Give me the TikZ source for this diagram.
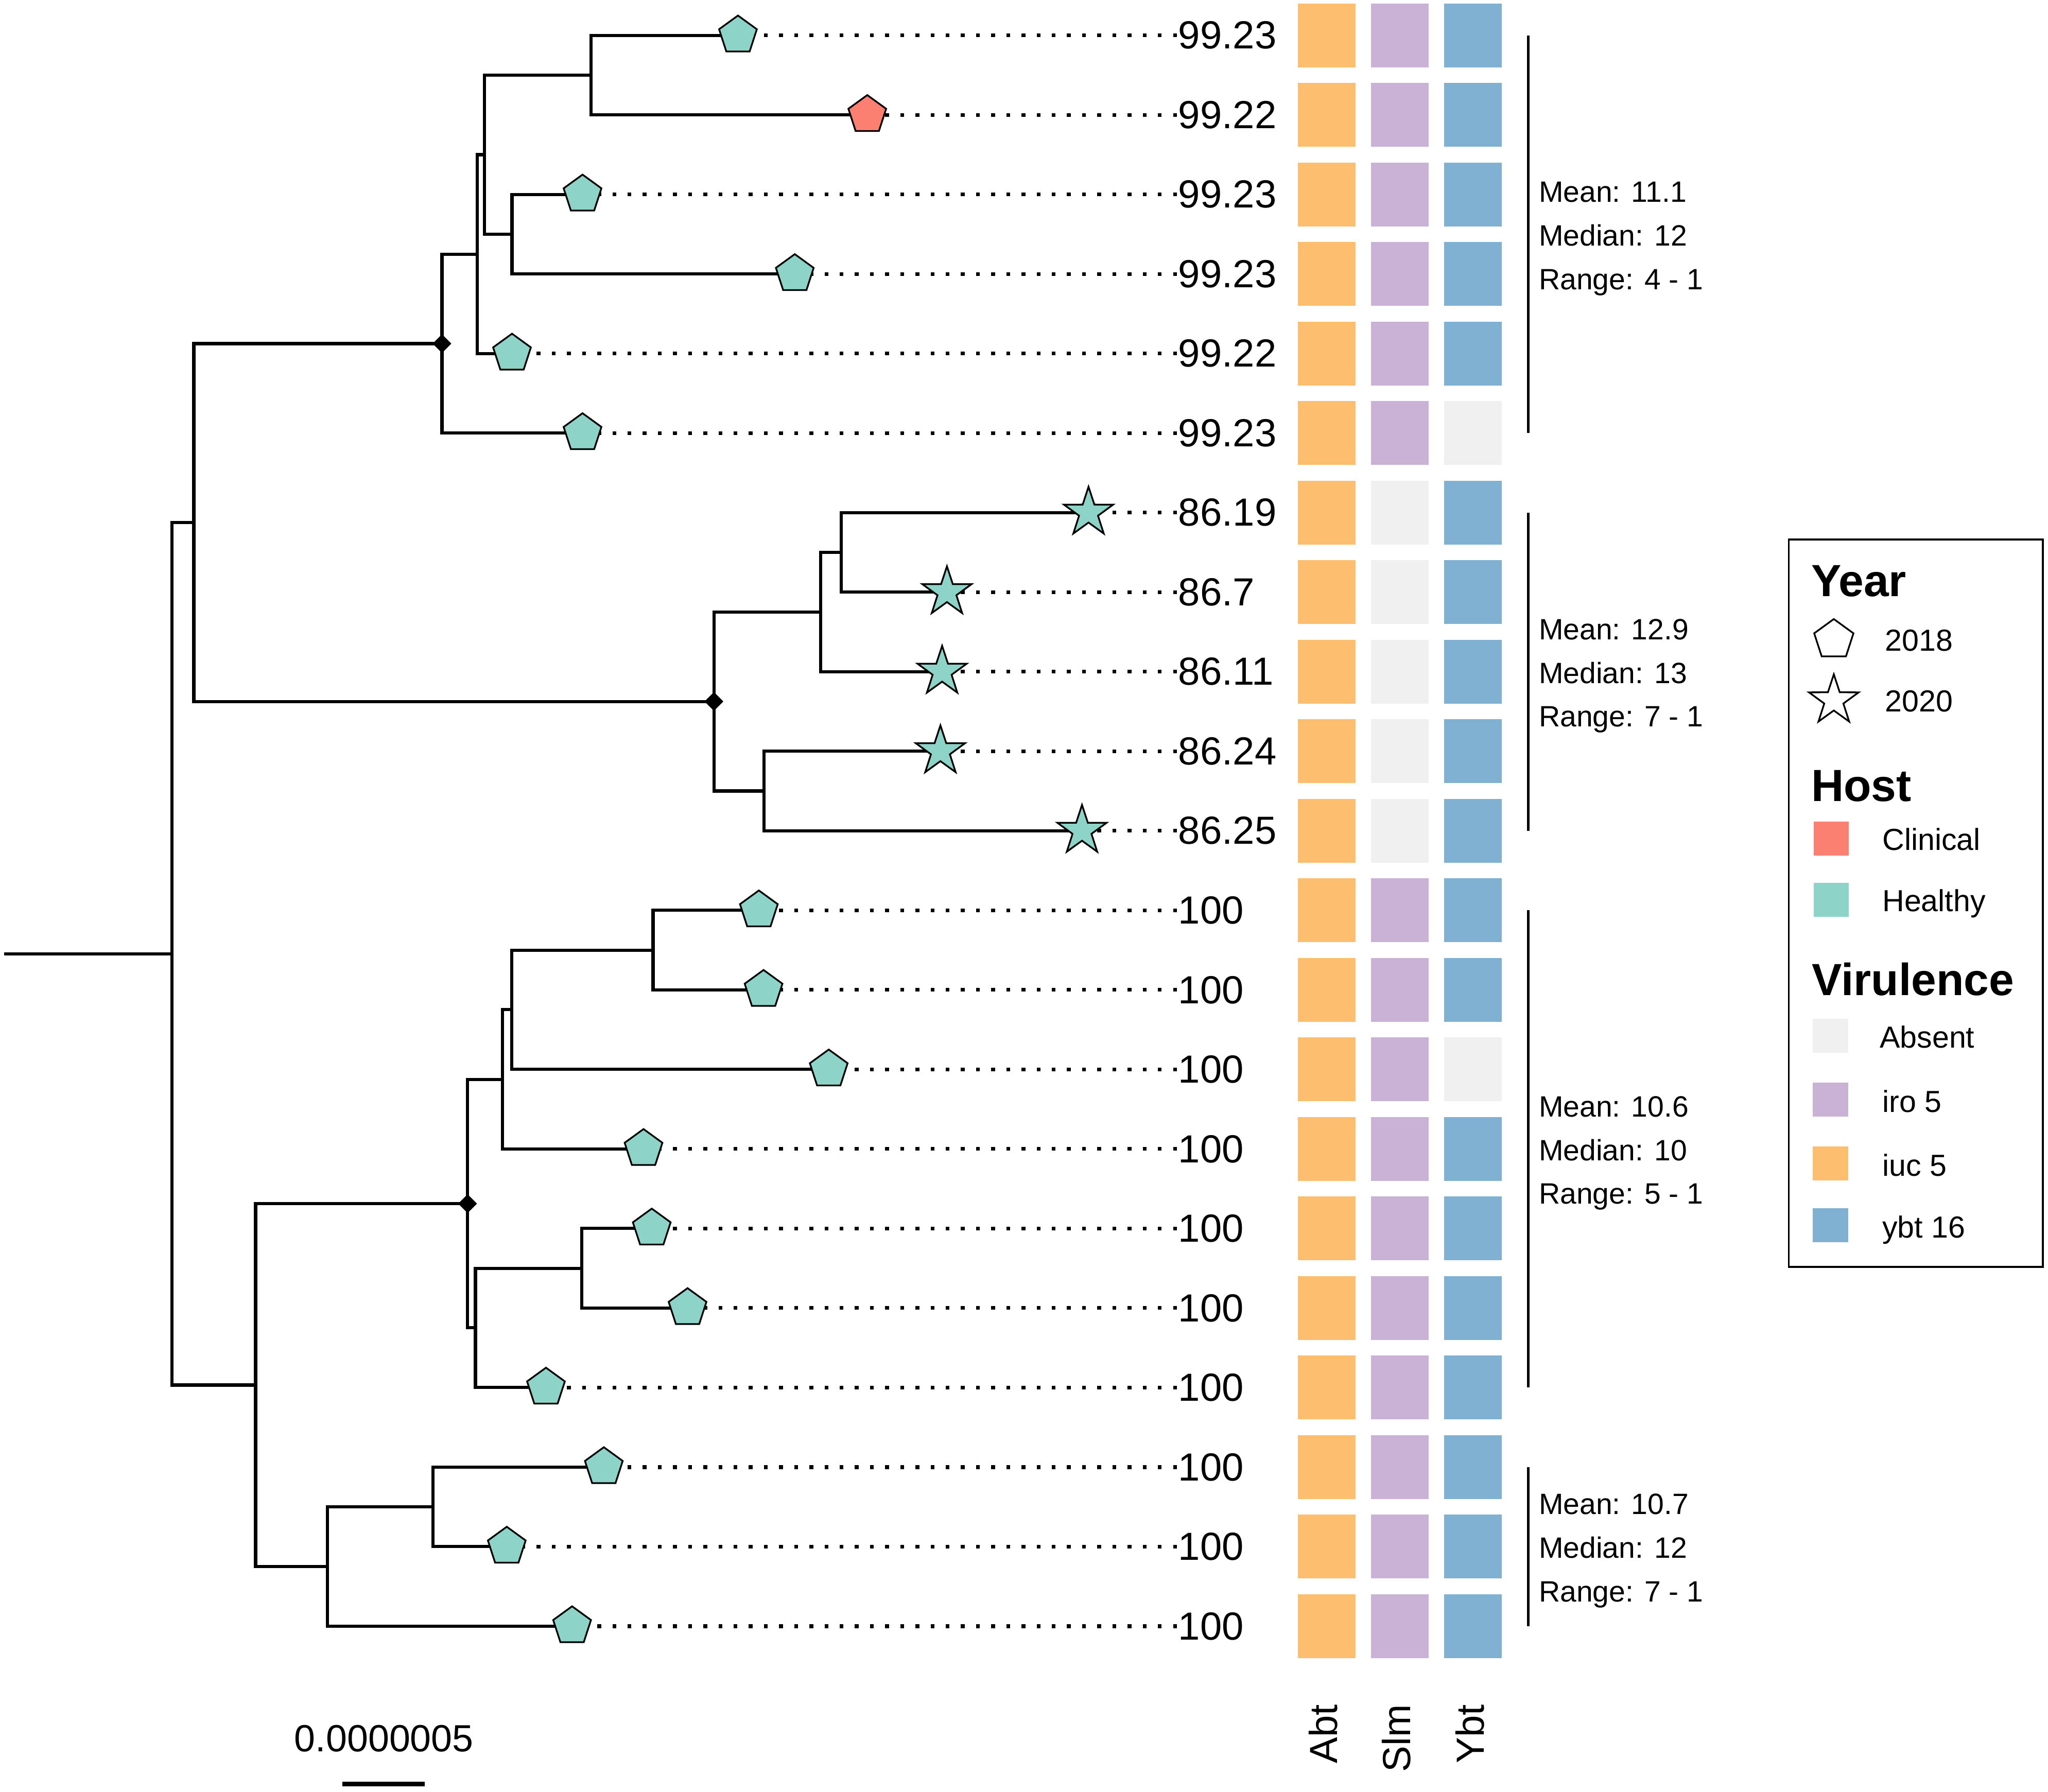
\documentclass[tikz,border=0pt]{standalone}
\usepackage{fontspec}
\setmainfont{Liberation Sans}
\usetikzlibrary{shapes.geometric}
\definecolor{healthy}{HTML}{8DD3C7}
\definecolor{clinical}{HTML}{FB8072}
\definecolor{absent}{HTML}{F0F0F0}
\definecolor{iro}{HTML}{CAB2D6}
\definecolor{iuc}{HTML}{FDBF6F}
\definecolor{ybt}{HTML}{80B1D3}
\newcommand\tipfont{\fontsize{30}{36}\selectfont}
\newcommand\grpfont{\fontsize{22.5}{27}\selectfont}
\newcommand\legfont{\fontsize{23.3}{28}\selectfont}
\newcommand\headfont{\bfseries\fontsize{34.5}{40}\selectfont}
\begin{document}
\begin{tikzpicture}[x=1pt,y=-1pt,
  branch/.style={line width=2.4pt},
  tipline/.style={line width=2.9pt,dash pattern=on 2.9pt off 8.7pt,line cap=butt},
  pent/.style={regular polygon,regular polygon sides=5,minimum size=30.4pt,inner sep=0pt,draw=black,line width=1.3pt,fill=healthy},
  starmark/.style={star,star points=5,star point ratio=2.6,minimum size=39.6pt,inner sep=0pt,draw=black,line width=1.3pt,fill=healthy},
  nodemark/.style={diamond,aspect=1,minimum width=14.5pt,minimum height=14.5pt,inner sep=0pt,fill=black},
  tiplab/.style={anchor=west,inner sep=0pt,font=\tipfont},
  tile/.style={rectangle,minimum width=44.3pt,minimum height=49pt,inner sep=0pt},
  grptext/.style={anchor=base west,inner sep=0pt,font=\grpfont},
  legtext/.style={anchor=base west,inner sep=0pt,font=\legfont},
  leghead/.style={anchor=base west,inner sep=0pt,font=\headfont},
  legkey/.style={rectangle,minimum width=27pt,minimum height=26pt,inner sep=0pt},
  collab/.style={rotate=90,anchor=base east,inner sep=0pt,font=\tipfont}]
\useasboundingbox (0,0) rectangle (1568,1372);

% tips
\foreach \i/\tx in {0/565,1/664,2/446,3/608.5,4/392,5/446,6/833.4,7/725,8/721.3,9/720,10/828.4,
  11/581,12/584.6,13/634.5,14/492.7,15/499,16/526.4,17/418,18/462.3,19/388,20/438}
  \coordinate (t\i) at (\tx,{27.1+60.9*\i});

% internal nodes
\coordinate (A) at (452.4,57.55);
\coordinate (C) at (392,179.35);
\coordinate (B) at (371,118.45);
\coordinate (D) at (365.5,194.6);
\coordinate (E) at (338.4,263.1);
\coordinate (I) at (644,423);
\coordinate (H) at (628.2,468.6);
\coordinate (J) at (584.8,605.65);
\coordinate (G) at (546.6,537.1);
\coordinate (F) at (148.4,400.1);
\coordinate (K) at (500,727.45);
\coordinate (L) at (391.8,773.1);
\coordinate (M) at (384.6,826.4);
\coordinate (O) at (445.3,971.05);
\coordinate (P) at (364,1016.7);
\coordinate (N) at (358,921.6);
\coordinate (S) at (331.6,1153.75);
\coordinate (T) at (250.8,1199.4);
\coordinate (Q) at (195.7,1060.5);
\coordinate (R) at (131.6,730.3);
\coordinate (root) at (3,730.3);

% branches
\foreach \p/\c in {A/t0,A/t1,C/t2,C/t3,B/A,B/C,D/B,D/t4,E/D,E/t5,
  I/t6,I/t7,H/I,H/t8,J/t9,J/t10,G/H,G/J,F/E,F/G,
  K/t11,K/t12,L/K,L/t13,M/L,M/t14,O/t15,O/t16,P/O,P/t17,N/M,N/P,
  S/t18,S/t19,T/S,T/t20,Q/N,Q/T,R/F,R/Q}
  \draw[branch] (\p) |- (\c);
\draw[branch] (root) -- (R);

% tip labels
\foreach \i/\lab in {0/99.23,1/99.22,2/99.23,3/99.23,4/99.22,5/99.23,6/86.19,7/86.7,8/86.11,9/86.24,10/86.25,
  11/100,12/100,13/100,14/100,15/100,16/100,17/100,18/100,19/100,20/100}
  \node[tiplab] (l\i) at (902,{27.1+60.9*\i}) {\lab};

% dotted leaders
\foreach \i in {0,...,20}
  \draw[tipline] ([xshift=-1pt]l\i.west) -- (t\i);

% tip shapes
\foreach \i in {0,2,3,4,5,11,12,13,14,15,16,17,18,19,20}
  \node[pent] (s\i) at (t\i) {};
\node[pent,fill=clinical] (s1) at (t1) {};
\foreach \i in {6,...,10}
  \node[starmark] (s\i) at (t\i) {};

% node markers
\node[nodemark] (dE) at (E) {};
\node[nodemark] (dG) at (G) {};
\node[nodemark] (dN) at (N) {};

% heatmap
\foreach \i in {0,...,20}
  \node[tile,fill=iuc] (a\i) at (1015.8,{27.1+60.9*\i}) {};
\foreach \i/\c in {0/iro,1/iro,2/iro,3/iro,4/iro,5/iro,6/absent,7/absent,8/absent,9/absent,10/absent,
  11/iro,12/iro,13/iro,14/iro,15/iro,16/iro,17/iro,18/iro,19/iro,20/iro}
  \node[tile,fill=\c] (m\i) at (1071.8,{27.1+60.9*\i}) {};
\foreach \i/\c in {0/ybt,1/ybt,2/ybt,3/ybt,4/ybt,5/absent,6/ybt,7/ybt,8/ybt,9/ybt,10/ybt,
  11/ybt,12/ybt,13/absent,14/ybt,15/ybt,16/ybt,17/ybt,18/ybt,19/ybt,20/ybt}
  \node[tile,fill=\c] (y\i) at (1127.8,{27.1+60.9*\i}) {};

% column labels
\node[collab] (cA) at (1024,1305) {Abt};
\node[collab] (cS) at (1080,1305) {Slm};
\node[collab] (cY) at (1136,1305) {Ybt};

% group brackets and statistics
\foreach \ya/\yb/\mn/\md/\rg in {27.1/331.6/11.1/12/4 - 1, 392.5/636.1/12.9/13/7 - 1,
  697.0/1062.4/10.6/10/5 - 1, 1123.3/1245.1/10.7/12/7 - 1}{
  \draw[line width=2pt] (1170,\ya) -- (1170,\yb);
  \pgfmathsetmacro\yc{(\ya+\yb)/2}
  \node[grptext] at (1178,{\yc-24.6}) {Mean: \mn};
  \node[grptext] at (1178,{\yc+8.8}) {Median: \md};
  \node[grptext] at (1178,{\yc+42.2}) {Range: \rg};
}

% scale bar
\node[inner sep=0pt,font=\fontsize{29}{34}\selectfont] (sbt) at (294,1331) {0.0000005};
\draw[line width=3.6pt] (262,1366) -- (325,1366);

% legend
\draw[line width=1.4pt] (1369.5,413) rectangle (1564,970);
\node[leghead] (hY) at (1386.5,456.6) {Year};
\node[pent,fill=white,minimum size=31.6pt] (kP) at (1404,489.8) {};
\node[legtext] at (1443,498.6) {2018};
\node[starmark,fill=white,minimum size=40pt] (kS) at (1404,536.3) {};
\node[legtext] at (1443,545) {2020};
\node[leghead] (hH) at (1386.5,613.5) {Host};
\node[legkey,fill=clinical] at (1402,642) {};
\node[legtext] at (1441,651) {Clinical};
\node[legkey,fill=healthy] at (1402,689) {};
\node[legtext] at (1441,698) {Healthy};
\node[leghead] (hV) at (1387,762) {Virulence};
\node[legkey,fill=absent] at (1401.5,793) {};
\node[legtext] at (1439,802.5) {Absent};
\node[legkey,fill=iro] at (1401.5,842) {};
\node[legtext] at (1441,851.6) {iro 5};
\node[legkey,fill=iuc] at (1401.5,891) {};
\node[legtext] at (1441,900.3) {iuc 5};
\node[legkey,fill=ybt] at (1401.5,938.3) {};
\node[legtext] at (1441,947.6) {ybt 16};
\end{tikzpicture}
\end{document}
